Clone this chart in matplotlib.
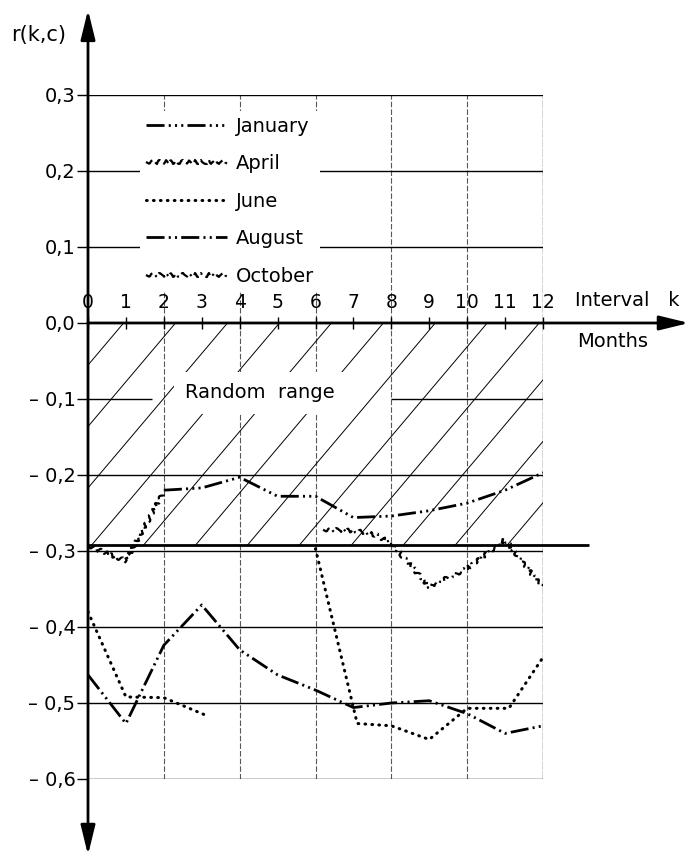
import numpy as np
import matplotlib
matplotlib.use('Agg')
import matplotlib.pyplot as plt
from matplotlib.patches import Rectangle

plt.rcParams['font.family'] = ['DejaVu Sans']
plt.rcParams['lines.scale_dashes'] = False

# values (k = interval in months, r = r(k,c))
jan_k = [2, 3, 4, 5, 6, 7, 8, 9, 10, 11, 12]
jan_r = [-0.22, -0.217, -0.203, -0.228, -0.228, -0.256, -0.254, -0.247, -0.237, -0.22, -0.197]

apr_k = [0, 1, 2]
apr_r = [-0.293, -0.313, -0.222]

jun_k = [0, 1, 2, 3.15, 4.5, 6, 7.1, 8, 9, 10, 11.1, 12]
jun_r = [-0.38, -0.492, -0.493, -0.517, np.nan, -0.297, -0.527, -0.53, -0.548, -0.507, -0.507, -0.44]

aug_k = list(range(13))
aug_r = [-0.463, -0.527, -0.424, -0.371, -0.43, -0.463, -0.483, -0.506, -0.5, -0.497, -0.514, -0.54, -0.53]

oct_k = [6.2, 7, 7.6, 8, 9, 10, 11, 12]
oct_r = [-0.272, -0.273, -0.279, -0.29, -0.347, -0.323, -0.285, -0.349]

random_low = -0.292
x_ticks = list(range(13))
y_ticks = [0.3, 0.2, 0.1, 0.0, -0.1, -0.2, -0.3, -0.4, -0.5, -0.6]


def ylab(v):
    s = f"{abs(v):.1f}".replace('.', ',')
    return s if v >= 0 else "\u2013 " + s


fig = plt.figure(figsize=(6.88, 8.57), dpi=100)
ax = fig.add_axes([88 / 688, 78 / 857, 455 / 688, 684 / 857])
ax.set_xlim(0, 12)
ax.set_ylim(-0.6, 0.3)
for s in ax.spines.values():
    s.set_visible(False)
ax.spines['top'].set_position(('data', 0))
ax.xaxis.set_ticks_position('top')
ax.set_xticks(x_ticks)
ax.set_xticklabels([str(k) for k in x_ticks])
ax.tick_params(axis='x', direction='inout', length=8, width=1, pad=4, labelsize=13.5)
ax.set_yticks(y_ticks)
ax.set_yticklabels([ylab(v) for v in y_ticks])
ax.tick_params(axis='y', direction='out', length=8, width=1, pad=1, labelsize=14)

# grid
ax.vlines([2, 4, 6, 8, 10], -0.6, 0.3, colors='0.35', lw=0.8, linestyles=(0, (4, 1.5)), zorder=1)
ax.vlines(12, -0.6, 0.3, colors='0.2', lw=1.0, linestyles=(0, (6, 1)), zorder=1)
ax.hlines([0.3, 0.2, 0.1, -0.2, -0.3, -0.4, -0.5, -0.6], 0, 12, colors='k', lw=1, zorder=1)
ax.hlines([-0.1, -0.1], [0, 8], [1.7, 12], colors='k', lw=1, zorder=1)

# random range hatch
rect = Rectangle((0, random_low), 12, -random_low, fill=False, lw=0, transform=ax.transData)
ax.add_patch(rect)
slope = 0.059
for k0 in np.arange(0.1 - 1.37 * 4, 12.5, 1.37):
    kk = np.array([k0, k0 + 6])
    ln, = ax.plot(kk, random_low + slope * (kk - k0), color='k', lw=0.7, zorder=1)
    ln.set_clip_path(rect)
ax.hlines(random_low, 0, 13.2, colors='k', lw=2, clip_on=False, zorder=3)
ax.text(2.55, -0.092, 'Random  range', fontsize=14, va='center', ha='left',
        bbox=dict(facecolor='white', edgecolor='none', pad=8), zorder=2)

# curves
l1, = ax.plot(jan_k, jan_r, color='k', lw=2, linestyle=(0, (13, 3, 1.5, 3, 1.5, 3, 1.5, 3)), label='January', zorder=4)
l2, = ax.plot(apr_k, apr_r, color='k', lw=1.6, linestyle=(0, (6, 3)), label='April', zorder=4)
l3, = ax.plot(jun_k, jun_r, color='k', lw=2.2, linestyle=(0, (0.5, 4.5)), dash_capstyle='round', label='June', zorder=4)
l4, = ax.plot(aug_k, aug_r, color='k', lw=2, linestyle=(0, (13, 3, 1.5, 3, 1.5, 3)), label='August', zorder=4)
l5, = ax.plot(oct_k, oct_r, color='k', lw=1.6, linestyle=(0, (6, 3, 1.5, 3)), label='October', zorder=4)
for ln in (l2, l5):
    ln.set_sketch_params(scale=2, length=8, randomness=3)

ax.legend(loc='upper left', bbox_to_anchor=(1.37, 0.279), bbox_transform=ax.transData,
          frameon=True, framealpha=1, edgecolor='none', facecolor='white', fancybox=False,
          fontsize=14, handlelength=4.2, handletextpad=0.45, labelspacing=0.95,
          borderpad=0.3, borderaxespad=0)

# axes with arrows
ax.annotate('', xy=(15.85, 0), xytext=(0, 0), annotation_clip=False,
            arrowprops=dict(arrowstyle='-|>,head_length=0.9,head_width=0.22', lw=2, color='k',
                            mutation_scale=20, shrinkA=0, shrinkB=0))
ax.annotate('', xy=(0, 0.412), xytext=(0, -0.70), annotation_clip=False,
            arrowprops=dict(arrowstyle='<|-|>,head_length=0.9,head_width=0.22', lw=2, color='k',
                            mutation_scale=20, shrinkA=0, shrinkB=0))

ax.text(-1.3, 0.379, 'r(k,c)', fontsize=15, ha='center', va='center', clip_on=False)
ax.text(12.85, 0.03, 'Interval   k', fontsize=14, ha='left', va='center', clip_on=False)
ax.text(12.9, -0.024, 'Months', fontsize=14, ha='left', va='center', clip_on=False)

fig.savefig('out.png', dpi=100)
